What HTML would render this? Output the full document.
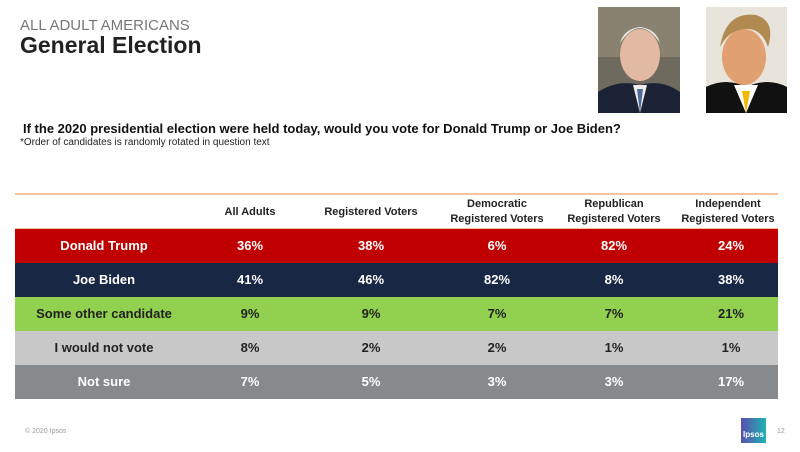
<!DOCTYPE html>
<html><head><meta charset="utf-8"><style>
body{margin:0;width:800px;height:450px;background:#fff;font-family:"Liberation Sans",sans-serif;position:relative;overflow:hidden}
.a{position:absolute}
.row{position:absolute;left:15px;width:763px;height:34px;font-weight:bold;font-size:13px}
.c{position:absolute;top:0;height:34px;line-height:34px;text-align:center;transform:translateX(-50%);white-space:nowrap}
.h{position:absolute;font-size:11px;font-weight:bold;color:#222;text-align:center;transform:translateX(-50%);line-height:15px;white-space:nowrap}
</style></head><body>
<div class="a" style="left:20px;top:17px;font-size:15px;color:#777">ALL ADULT AMERICANS</div>
<div class="a" style="left:20px;top:32px;font-size:23px;font-weight:bold;color:#222">General Election</div>
<div class="a" style="left:23px;top:121px;font-size:13px;font-weight:bold;color:#111">If the 2020 presidential election were held today, would you vote for Donald Trump or Joe Biden?</div>
<div class="a" style="left:20px;top:137px;font-size:10px;color:#222">*Order of candidates is randomly rotated in question text</div>
<svg class="a" style="left:598px;top:7px" width="82" height="106"><rect width="82" height="106" fill="#6e6a5e"/><rect x="0" y="0" width="82" height="50" fill="#8a8270"/><ellipse cx="42" cy="48" rx="20" ry="26" fill="#e2b9a2"/><path d="M22 36 Q42 6 62 36 Q58 22 42 20 Q26 22 22 36Z" fill="#eee"/><path d="M0 106 L0 85 Q20 72 42 78 Q64 72 82 85 L82 106Z" fill="#1c2236"/><path d="M35 78 L42 106 L49 78Z" fill="#eee"/><path d="M39 82 L42 106 L45 82Z" fill="#4a6a9a"/></svg>
<svg class="a" style="left:706px;top:7px" width="81" height="106"><rect width="81" height="106" fill="#e8e4dc"/><ellipse cx="38" cy="50" rx="22" ry="28" fill="#e0a070"/><path d="M14 40 Q20 4 50 8 Q70 14 62 40 Q55 20 38 22 Q22 24 14 40Z" fill="#b08a50"/><path d="M0 106 L0 80 Q20 70 40 80 Q62 70 81 80 L81 106Z" fill="#111"/><path d="M28 78 L40 106 L52 78Z" fill="#fff"/><path d="M36 84 L40 106 L44 84Z" fill="#f0b800"/></svg>
<div class="a" style="left:15px;top:193px;width:763px;height:2px;background:#f5c39e"></div>
<div class="a" style="left:15px;top:228px;width:763px;height:1px;background:#f5c39e"></div>
<div class="h" style="left:250px;top:205px">All Adults</div>
<div class="h" style="left:371px;top:205px">Registered Voters</div>
<div class="h" style="left:497px;top:197px">Democratic<br>Registered Voters</div>
<div class="h" style="left:614px;top:197px">Republican<br>Registered Voters</div>
<div class="h" style="left:728px;top:197px">Independent<br>Registered Voters</div>
<div class="row" style="top:229px;background:#c00000;color:#fff"><div class="c" style="left:89px">Donald Trump</div><div class="c" style="left:235px">36%</div><div class="c" style="left:356px">38%</div><div class="c" style="left:482px">6%</div><div class="c" style="left:599px">82%</div><div class="c" style="left:716px">24%</div></div>
<div class="row" style="top:263px;background:#172744;color:#fff"><div class="c" style="left:89px">Joe Biden</div><div class="c" style="left:235px">41%</div><div class="c" style="left:356px">46%</div><div class="c" style="left:482px">82%</div><div class="c" style="left:599px">8%</div><div class="c" style="left:716px">38%</div></div>
<div class="row" style="top:297px;background:#92d050;color:#222"><div class="c" style="left:89px">Some other candidate</div><div class="c" style="left:235px">9%</div><div class="c" style="left:356px">9%</div><div class="c" style="left:482px">7%</div><div class="c" style="left:599px">7%</div><div class="c" style="left:716px">21%</div></div>
<div class="row" style="top:331px;background:#c8c8c8;color:#222"><div class="c" style="left:89px">I would not vote</div><div class="c" style="left:235px">8%</div><div class="c" style="left:356px">2%</div><div class="c" style="left:482px">2%</div><div class="c" style="left:599px">1%</div><div class="c" style="left:716px">1%</div></div>
<div class="row" style="top:365px;background:#868a8c;color:#fff"><div class="c" style="left:89px">Not sure</div><div class="c" style="left:235px">7%</div><div class="c" style="left:356px">5%</div><div class="c" style="left:482px">3%</div><div class="c" style="left:599px">3%</div><div class="c" style="left:716px">17%</div></div>
<div class="a" style="left:25px;top:428px;font-size:7px;color:#999">© 2020 Ipsos</div>
<div class="a" style="left:741px;top:418px;width:25px;height:25px;background:linear-gradient(90deg,#5a4fb0,#1eb3b0);color:#fff;font-size:8px;font-weight:bold;text-align:center;line-height:34px">Ipsos</div>
<div class="a" style="left:777px;top:428px;font-size:7px;color:#999">12</div>
</body></html>
